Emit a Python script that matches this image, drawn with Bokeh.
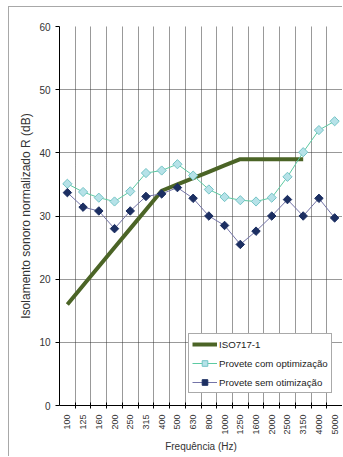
from math import pi

from bokeh.embed import file_html
from bokeh.models import (ColumnDataSource, FixedTicker, Legend, LegendItem,
                          Range1d, Title)
from bokeh.plotting import figure
from bokeh.resources import INLINE

# Third-octave band centre frequencies (Hz)
frequencies = ["100", "125", "160", "200", "250", "315", "400", "500", "630",
               "800", "1000", "1250", "1600", "2000", "2500", "3150", "4000", "5000"]

# Sound reduction index R (dB) of the two test specimens
r_optimised = [35.1, 33.8, 32.9, 32.3, 33.9, 36.8, 37.2, 38.2, 36.4,
               34.2, 33.0, 32.5, 32.3, 32.9, 36.2, 40.1, 43.6, 45.0]
r_plain = [33.7, 31.4, 30.8, 28.0, 30.8, 33.1, 33.5, 34.5, 32.8,
           30.0, 28.5, 25.5, 27.6, 30.0, 32.6, 30.0, 32.8, 29.7]

# ISO 717-1 reference curve (shifted), 100 Hz to 3150 Hz
iso_reference = [16, 19, 22, 25, 28, 31, 34, 35, 36, 37, 38, 39, 39, 39, 39, 39]

y_ticks = [0, 10, 20, 30, 40, 50, 60]

centres = [i + 0.5 for i in range(len(frequencies))]
boundaries = [float(i) for i in range(1, len(frequencies) + 1)]

src_opt = ColumnDataSource(dict(x=centres, y=r_optimised))
src_plain = ColumnDataSource(dict(x=centres, y=r_plain))
src_iso = ColumnDataSource(dict(x=centres[:len(iso_reference)], y=iso_reference))

FONT = "Liberation Sans"
TEXT = "#333333"

p = figure(width=334, height=450, output_backend="svg", toolbar_location=None,
           x_range=Range1d(0, len(frequencies)), y_range=Range1d(0, 60),
           min_border_left=50, min_border_right=1, min_border_top=19,
           min_border_bottom=52)
p.outline_line_color = None
p.background_fill_color = "white"
p.border_fill_color = "white"
# light frame around the whole chart area
p.styles = {"margin-left": "8px", "margin-top": "6px",
            "border-left": "1px solid #a8a8a8", "border-top": "1px solid #a8a8a8"}

# category axis: labels at band centres, tick marks between bands
xt = FixedTicker(ticks=centres, minor_ticks=boundaries)
p.xaxis.ticker = xt
p.xaxis.major_label_overrides = {c: f for c, f in zip(centres, frequencies)}
p.xaxis.major_label_orientation = pi / 2
p.xaxis.major_tick_line_color = None
p.xaxis.minor_tick_line_color = "black"
p.xaxis.minor_tick_out = 3
p.xaxis.minor_tick_in = 3
p.xaxis.axis_line_color = "black"
p.xaxis.major_label_text_font = FONT
p.xaxis.major_label_text_font_size = "9px"
p.xaxis.major_label_text_color = TEXT
p.xaxis.major_label_standoff = 3
p.xaxis.axis_label = "Frequência (Hz)"
p.xaxis.axis_label_text_font = FONT
p.xaxis.axis_label_text_font_size = "10px"
p.xaxis.axis_label_text_font_style = "normal"
p.xaxis.axis_label_text_color = TEXT
p.xaxis.axis_label_standoff = 3

p.yaxis.ticker = FixedTicker(ticks=y_ticks)
p.yaxis.minor_tick_line_color = None
p.yaxis.major_tick_out = 4
p.yaxis.major_tick_in = 0
p.yaxis.axis_line_color = "black"
p.yaxis.major_label_text_font = FONT
p.yaxis.major_label_text_font_size = "10px"
p.yaxis.major_label_text_color = TEXT
p.yaxis.major_label_standoff = 5

# y-axis title, shifted a little above the frame centre
ytitle = Title(text="Isolamento sonoro normalizado R (dB)", align="center",
               offset=24, standoff=8, text_font=FONT, text_font_size="12px",
               text_font_style="normal", text_color=TEXT)
p.add_layout(ytitle, "left")

# dotted grid
p.xgrid.ticker = xt
p.xgrid.grid_line_color = None
p.xgrid.minor_grid_line_color = "#333333"
p.xgrid.minor_grid_line_dash = "1 1"
p.xgrid.minor_grid_line_width = 1
p.ygrid.grid_line_color = "#333333"
p.ygrid.grid_line_dash = "1 1"

# series
iso_line = p.line("x", "y", source=src_iso, line_color="#4b6426", line_width=4)

opt_line = p.line("x", "y", source=src_opt, line_color="#5ccaa2", line_width=1)
opt_pts = p.scatter("x", "y", source=src_opt, marker="square", angle=pi / 4,
                    size=6.5, fill_color="#b6e2e8", line_color="#74c4c6",
                    line_width=1)

plain_line = p.line("x", "y", source=src_plain, line_color="#7474a8", line_width=1)
plain_pts = p.scatter("x", "y", source=src_plain, marker="square", angle=pi / 4,
                      size=6, fill_color="#1c2f62", line_color="#1c2f62")

legend = Legend(items=[
    LegendItem(label="ISO717-1", renderers=[iso_line]),
    LegendItem(label="Provete com optimização", renderers=[opt_line, opt_pts]),
    LegendItem(label="Provete sem otimização", renderers=[plain_line, plain_pts]),
], location=(129, 12))
legend.label_text_font = FONT
legend.label_text_font_size = "9.7px"
legend.label_text_color = "#222222"
legend.glyph_width = 25
legend.glyph_height = 14
legend.label_standoff = 2
legend.label_height = 14
legend.spacing = 5
legend.padding = 3
legend.margin = 0
legend.border_line_color = "#555555"
legend.border_line_width = 1
legend.background_fill_color = "white"
legend.background_fill_alpha = 1
p.add_layout(legend, "center")

open("out.html", "w").write(file_html(p, INLINE))
